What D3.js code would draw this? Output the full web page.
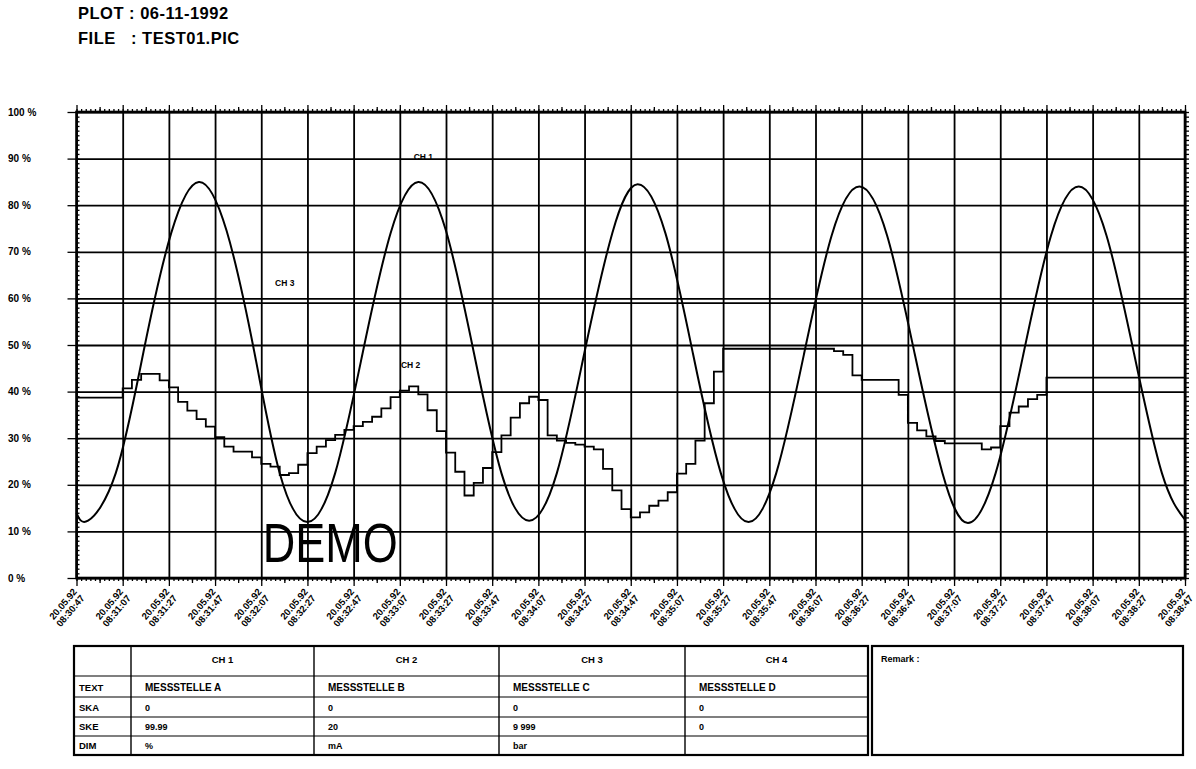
<!DOCTYPE html>
<html>
<head>
<meta charset="utf-8">
<script src="https://cdn.jsdelivr.net/npm/d3@7"></script>
<style>
  body { margin: 0; background: #fff; }
  svg { font-family: "Liberation Sans", Arial, sans-serif; }
</style>
</head>
<body>
<svg id="chart" width="1196" height="769"></svg>
<script>
// y scale in %, x scale in seconds after 08:30:47
const yTicks = [0, 10, 20, 30, 40, 50, 60, 70, 80, 90, 100]
const dateLabel = "20.05.92"
const timeLabels = ["08:30:47", "08:31:07", "08:31:27", "08:31:47", "08:32:07", "08:32:27", "08:32:47",
  "08:33:07", "08:33:27", "08:33:47", "08:34:07", "08:34:27", "08:34:47", "08:35:07", "08:35:27",
  "08:35:47", "08:36:07", "08:36:27", "08:36:47", "08:37:07", "08:37:27", "08:37:47", "08:38:07",
  "08:38:27", "08:38:47"]

const ch1Sec = [0, 5, 17, 29, 41, 53, 65, 77, 88, 100, 112, 124, 136, 148, 160, 172, 184, 196, 208, 220,
  232, 243, 255, 267, 279, 291, 303, 315, 327, 339, 351, 363, 375, 386, 398, 410, 422, 434, 446, 458, 470, 480]
const ch1Val = [14, 12.3, 22.5, 48.5, 74, 85, 74.5, 48.5, 22.5, 12, 22.5, 48.5, 74, 85, 74.5, 48.5, 22.5, 12.3, 22.5, 48.5,
  74, 84.5, 74, 48, 22.5, 12, 22.5, 48, 73.5, 84, 73.5, 48, 22.5, 11.8, 22.5, 48, 73.5, 84, 73.5, 48, 22.5, 12.5]

const ch2Sec = [0, 20, 24, 28, 36, 40, 44, 48, 52, 56, 60, 64, 68, 76, 80, 84, 88, 92, 96, 100, 104, 108, 112, 116,
  120, 124, 128, 132, 136, 140, 144, 148, 152, 156, 160, 164, 168, 172, 176, 180, 184, 188, 192, 196, 200, 204,
  208, 212, 216, 220, 224, 228, 232, 236, 240, 244, 248, 252, 256, 260, 264, 268, 272, 276, 280, 328, 332, 336,
  340, 356, 360, 364, 368, 372, 376, 392, 396, 400, 404, 408, 412, 416, 420, 480]
const ch2Val = [38.7, 40.7, 42.5, 43.8, 42.4, 40.9, 37.8, 35.9, 34.1, 32.5, 30.2, 28.2, 27.1, 25.9, 24.5, 23.9, 22.1,
  22.5, 24.3, 26.8, 28.2, 29.6, 30.7, 31.8, 32.6, 33.5, 34.6, 36.4, 38.8, 40.2, 41.1, 39.4, 36.0, 31.5, 26.9, 22.8,
  17.7, 20.4, 23.6, 27.0, 30.6, 34.4, 37.5, 38.9, 38.2, 30.6, 29.5, 29.0, 28.6, 28.2, 27.6, 23.4, 18.8, 14.8, 13.0,
  14.1, 15.5, 16.6, 18.4, 22.4, 24.5, 29.5, 37.5, 44.3, 49.2, 48.7, 47.9, 43.5, 42.5, 39.3, 33.3, 31.7, 30.4, 29.4,
  28.9, 27.6, 28.0, 32.6, 35.5, 36.8, 38.4, 39.3, 43.0, 43.0]

const ch3Val = 59

const channels = ["CH 1", "CH 2", "CH 3", "CH 4"]
const rowNames = ["TEXT", "SKA", "SKE", "DIM"]
const textRow = ["MESSSTELLE A", "MESSSTELLE B", "MESSSTELLE C", "MESSSTELLE D"]
const skaRow = ["0", "0", "0", "0"]
const skeRow = ["99.99", "20", "9 999", "0"]
const dimRow = ["%", "mA", "bar", ""]

const svg = d3.select("#chart")

let pLeft = 76.5, pRight = 1185, pTop = 112, pBottom = 578

let x = d3.scaleLinear().domain([0, 480]).range([pLeft, pRight])
let y = d3.scaleLinear().domain([0, 100]).range([pBottom, pTop])

// header
svg.append("text").attr("x", 78).attr("y", 19).attr("font-size", "16.5px").attr("font-weight", "bold")
  .attr("letter-spacing", "0.5px")
  .style("white-space", "pre").text("PLOT : 06-11-1992")
svg.append("text").attr("x", 78).attr("y", 44).attr("font-size", "16.5px").attr("font-weight", "bold")
  .attr("letter-spacing", "0.5px")
  .style("white-space", "pre").text("FILE   : TEST01.PIC")

// grid
svg.append("g")
  .attr("transform", "translate(" + pLeft + ",0)")
  .call(d3.axisLeft(y).tickValues(yTicks).tickSize(-(pRight - pLeft)).tickFormat(""))
  .call(g => g.select(".domain").remove())
  .call(g => g.selectAll("line").attr("stroke", "#000").attr("stroke-width", 1.8))

svg.append("g")
  .attr("transform", "translate(0," + pBottom + ")")
  .call(d3.axisBottom(x).tickValues(d3.range(0, 481, 20)).tickSize(-(pBottom - pTop)).tickFormat(""))
  .call(g => g.select(".domain").remove())
  .call(g => g.selectAll("line").attr("stroke", "#000").attr("stroke-width", 1.8))

// outer ticks
function tickAxis(axis, tr, vals, size) {
  svg.append("g")
    .attr("transform", tr)
    .call(axis.tickValues(vals).tickSize(size).tickFormat(""))
    .call(g => g.select(".domain").remove())
    .call(g => g.selectAll("line").attr("stroke", "#000").attr("stroke-width", 1.3))
}
tickAxis(d3.axisBottom(x), "translate(0," + pBottom + ")", d3.range(0, 481, 2), 3)
tickAxis(d3.axisBottom(x), "translate(0," + pBottom + ")", d3.range(10, 480, 20), 5)
tickAxis(d3.axisBottom(x), "translate(0," + pBottom + ")", d3.range(0, 481, 20), 8)
tickAxis(d3.axisTop(x), "translate(0," + pTop + ")", d3.range(0, 481, 2), 3)
tickAxis(d3.axisTop(x), "translate(0," + pTop + ")", d3.range(10, 480, 20), 5)
tickAxis(d3.axisTop(x), "translate(0," + pTop + ")", d3.range(0, 481, 20), 7)
tickAxis(d3.axisRight(y), "translate(" + pLeft + ",0)", d3.range(0, 101, 1), 3)
tickAxis(d3.axisLeft(y), "translate(" + pLeft + ",0)", yTicks, 9)
tickAxis(d3.axisRight(y), "translate(" + pRight + ",0)", d3.range(0, 101, 1), 4)

svg.append("rect")
  .attr("x", pLeft).attr("y", pTop)
  .attr("width", pRight - pLeft).attr("height", pBottom - pTop)
  .attr("fill", "none").attr("stroke", "#000").attr("stroke-width", 2.6)

// y labels
svg.append("g")
  .selectAll("text")
  .data(yTicks)
  .enter()
  .append("text")
    .attr("x", 8)
    .attr("y", d => y(d) + 3.5)
    .attr("font-size", "10px")
    .attr("font-weight", "bold")
    .text(d => d + " %")

// x labels
let xl = svg.append("g")
  .selectAll("text")
  .data(timeLabels)
  .enter()
  .append("text")
    .attr("transform", (d, i) => "translate(" + (x(i * 20) + 1) + ",592) rotate(-50)")
    .attr("text-anchor", "end")
    .attr("font-size", "9.5px")
    .attr("font-weight", "bold")
xl.append("tspan").attr("x", 0).attr("dy", 0).text(dateLabel)
xl.append("tspan").attr("x", 0).attr("dy", 10).text(d => d)

// series
let ch1 = ch1Sec.map((s, i) => [s, ch1Val[i]])
let ch2 = ch2Sec.map((s, i) => [s, ch2Val[i]])

svg.append("path")
  .datum([[0, ch3Val], [480, ch3Val]])
  .attr("fill", "none").attr("stroke", "#000").attr("stroke-width", 1.8)
  .attr("d", d3.line().x(d => x(d[0])).y(d => y(d[1])))

svg.append("path")
  .datum(ch2)
  .attr("fill", "none").attr("stroke", "#000").attr("stroke-width", 1.8)
  .attr("d", d3.line().curve(d3.curveStepAfter).x(d => x(d[0])).y(d => y(d[1])))

svg.append("path")
  .datum(ch1)
  .attr("fill", "none").attr("stroke", "#000").attr("stroke-width", 2)
  .attr("d", d3.line().curve(d3.curveNatural).x(d => x(d[0])).y(d => y(d[1])))

// series names
svg.append("text").attr("x", x(146)).attr("y", y(89.7)).attr("font-size", "8.5px").attr("font-weight", "bold").text("CH 1")
svg.append("text").attr("x", x(86)).attr("y", y(62.7)).attr("font-size", "8.5px").attr("font-weight", "bold").text("CH 3")
svg.append("text").attr("x", x(140.5)).attr("y", y(45)).attr("font-size", "8.5px").attr("font-weight", "bold").text("CH 2")

svg.append("text")
  .attr("x", x(80.7)).attr("y", y(3.4))
  .attr("font-size", "56px")
  .attr("textLength", 135).attr("lengthAdjust", "spacingAndGlyphs")
  .text("DEMO")

// table
const colX = [74, 131, 314, 499, 685, 868]
const rowY = [646, 676, 697, 717, 736, 755]
let table = svg.append("g")

table.append("rect")
  .attr("x", colX[0]).attr("y", rowY[0])
  .attr("width", colX[5] - colX[0]).attr("height", rowY[5] - rowY[0])
  .attr("fill", "none").attr("stroke", "#000").attr("stroke-width", 2.2)

table.selectAll(".vline")
  .data(colX.slice(1, 5))
  .enter()
  .append("line")
    .attr("x1", d => d).attr("x2", d => d)
    .attr("y1", rowY[0]).attr("y2", rowY[5])
    .attr("stroke", "#000").attr("stroke-width", 1.4)

table.selectAll(".hline")
  .data(rowY.slice(1, 5))
  .enter()
  .append("line")
    .attr("x1", colX[0]).attr("x2", colX[5])
    .attr("y1", d => d).attr("y2", d => d)
    .attr("stroke", "#000").attr("stroke-width", 1.2)

table.selectAll(".chname")
  .data(channels)
  .enter()
  .append("text")
    .attr("x", (d, i) => (colX[i + 1] + colX[i + 2]) / 2)
    .attr("y", 663)
    .attr("text-anchor", "middle")
    .attr("font-size", "9.5px").attr("font-weight", "bold")
    .text(d => d)

table.selectAll(".rowname")
  .data(rowNames)
  .enter()
  .append("text")
    .attr("x", 79)
    .attr("y", (d, i) => rowY[i + 2] - 6)
    .attr("font-size", "9.5px").attr("font-weight", "bold")
    .text(d => d)

const rows = [textRow, skaRow, skeRow, dimRow]
rows.forEach((row, r) => {
  table.append("g")
    .selectAll("text")
    .data(row)
    .enter()
    .append("text")
      .attr("x", (d, i) => colX[i + 1] + 14)
      .attr("y", rowY[r + 2] - 6)
      .attr("font-size", r == 0 ? "10px" : "9px").attr("font-weight", "bold")
      .text(d => d)
})

table.append("rect")
  .attr("x", 872).attr("y", rowY[0])
  .attr("width", 1183 - 872).attr("height", rowY[5] - rowY[0])
  .attr("fill", "none").attr("stroke", "#000").attr("stroke-width", 2.2)
table.append("text").attr("x", 881).attr("y", 662)
  .attr("font-size", "9px").attr("font-weight", "bold").text("Remark :")
</script>
</body>
</html>
